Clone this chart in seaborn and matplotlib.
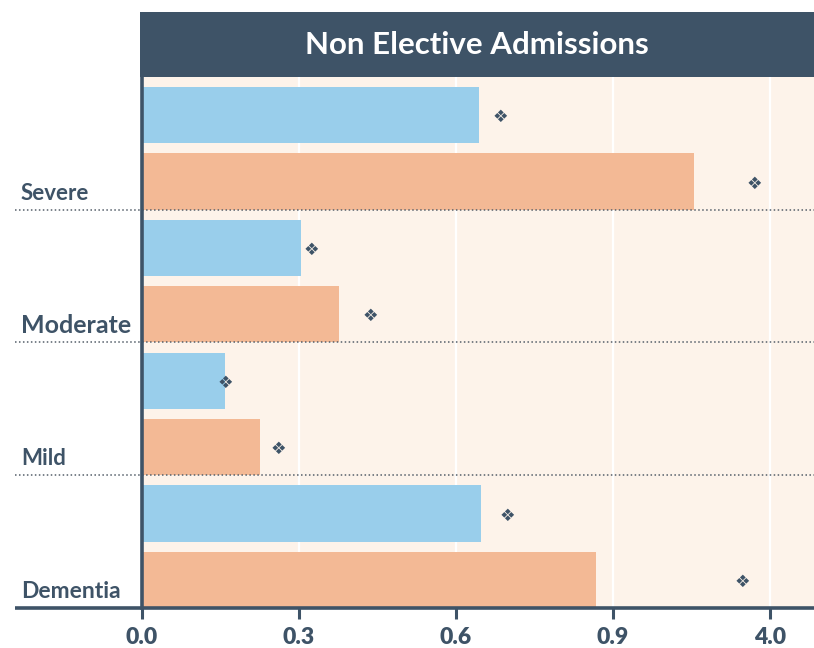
import matplotlib
matplotlib.use("Agg")
import matplotlib.pyplot as plt
import matplotlib.transforms as mtransforms
from matplotlib.patches import Rectangle
import pandas as pd
import seaborn as sns

# ---- data ----
severity = ["Severe", "Moderate", "Mild", "Dementia"]
groups = ["cohort", "comparison"]
cohort_values = [0.644, 0.304, 0.159, 0.648]
comparison_values = [1.055, 0.377, 0.226, 0.868]
cohort_markers = [0.686, 0.323, 0.159, 0.698]
comparison_markers = [1.170, 0.436, 0.260, 1.147]
tick_positions = [0.0, 0.3, 0.6, 0.9, 1.2]
tick_labels = ["0.0", "0.3", "0.6", "0.9", "4.0"]
title = "Non Elective Admissions"

NAVY = "#3e5367"
BLUE = "#99ceeb"
ORANGE = "#f3b995"
PANEL = "#fdf3ea"
FONT = "Lato"

df = pd.DataFrame({
    "severity": severity * 2,
    "group": [groups[0]] * len(severity) + [groups[1]] * len(severity),
    "value": cohort_values + comparison_values,
})

sns.set_theme(style="white")
plt.rcParams["font.family"] = [FONT, "DejaVu Sans"]

fig = plt.figure(figsize=(8.14, 6.48), dpi=100)
W, H = 814, 648
ax = fig.add_axes([142 / W, 1 - 608 / H, (W - 142) / W, (608 - 77) / H])
ax.set_facecolor(PANEL)

sns.barplot(data=df, x="value", y="severity", hue="group", orient="h",
            order=severity, hue_order=groups, palette=[BLUE, ORANGE],
            width=1.0, gap=0.152, saturation=1, linewidth=0,
            legend=False, ax=ax, zorder=2)

ax.set_xlim(0, 672 / 523)
ax.set_ylim(3.462, -0.538)

# vertical white gridlines
for t in tick_positions[1:]:
    ax.axvline(t, color="white", lw=1.6, zorder=1)

# diamond markers beside each bar
for i in range(len(severity)):
    ax.text(cohort_markers[i], i - 0.25, "\u2756", ha="center",
            va="center_baseline", fontsize=12.5, color=NAVY,
            family="DejaVu Sans", zorder=4)
    ax.text(comparison_markers[i], i + 0.25, "\u2756", ha="center",
            va="center_baseline", fontsize=12.5, color=NAVY,
            family="DejaVu Sans", zorder=4)

# category labels and dotted separators extending into the left margin
trans = mtransforms.blended_transform_factory(fig.transFigure, ax.transData)
x_left = 15 / W
label_sizes = [16, 18, 16, 16.5]
for i, name in enumerate(severity):
    ax.text(21 / W, i + 0.462 - 0.075, name, transform=trans, ha="left",
            va="baseline", fontsize=label_sizes[i], fontweight="bold",
            color=NAVY, clip_on=False)
    if i < len(severity) - 1:
        ax.plot([x_left, 1.0], [i + 0.462, i + 0.462], transform=trans,
                color="#555f6a", lw=1.1, ls=(0, (1, 1.6)), clip_on=False,
                zorder=5)
# solid baseline
ax.plot([x_left, 1.0], [3.462, 3.462], transform=trans, color=NAVY, lw=2.6,
        clip_on=False, zorder=6, solid_capstyle="butt")

for s in ["top", "right", "bottom"]:
    ax.spines[s].set_visible(False)
ax.spines["left"].set_color(NAVY)
ax.spines["left"].set_linewidth(2.6)
ax.spines["left"].set_zorder(6)

ax.set_xticks(tick_positions)
ax.set_xticklabels(tick_labels)
ax.tick_params(axis="x", bottom=True, length=8, width=2.2, color=NAVY,
               pad=6, labelsize=16.5, labelcolor=NAVY)
for lab in ax.get_xticklabels():
    lab.set_fontweight("heavy")
ax.set_yticks([])
ax.set_xlabel("")
ax.set_ylabel("")

# title banner
fig.patches.append(Rectangle((140 / W, 1 - 77 / H), (W - 140) / W, 65 / H,
                             transform=fig.transFigure, facecolor=NAVY,
                             edgecolor="none", zorder=0))
fig.text(477 / W, 1 - 45 / H, title, ha="center", va="center",
         fontsize=22.5, fontweight="bold", color="white")

fig.savefig("out.png", dpi=100)
